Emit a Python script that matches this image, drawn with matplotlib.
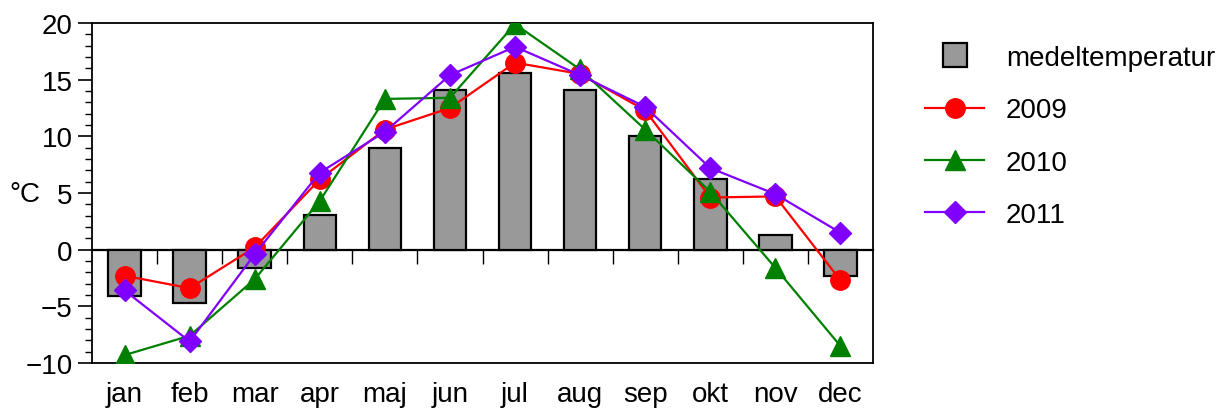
import matplotlib
matplotlib.use("Agg")
import matplotlib.pyplot as plt
from matplotlib.lines import Line2D
import numpy as np

plt.rcParams['font.family'] = ['Liberation Sans', 'DejaVu Sans']
plt.rcParams['font.size'] = 20

months = ["jan", "feb", "mar", "apr", "maj", "jun", "jul", "aug", "sep", "okt", "nov", "dec"]
medel = [-4.1, -4.7, -1.6, 3.1, 9.0, 14.1, 15.6, 14.1, 10.0, 6.2, 1.3, -2.3]
y2009 = [-2.3, -3.4, 0.2, 6.2, 10.6, 12.5, 16.5, 15.5, 12.3, 4.6, 4.7, -2.7]
y2010 = [-9.3, -7.6, -2.6, 4.3, 13.3, 13.4, 19.9, 15.9, 10.6, 5.1, -1.6, -8.5]
y2011 = [-3.6, -8.1, -0.4, 6.8, 10.4, 15.4, 17.9, 15.4, 12.6, 7.2, 4.9, 1.5]

fig = plt.figure(figsize=(12.29, 4.10), dpi=100)
ax = fig.add_axes([0.0749, 0.1122, 0.6354, 0.8293])

x = np.arange(1, len(months) + 1)
ax.bar(x, medel, width=0.5, color="#999999", edgecolor="black", linewidth=1.6, zorder=2)

ax.plot(x, y2009, color="#ff0000", lw=1.6, marker="o", ms=14, zorder=3)
ax.plot(x, y2010, color="#008000", lw=1.6, marker="^", ms=14, zorder=4)
ax.plot(x, y2011, color="#8000ff", lw=1.6, marker="D", ms=11, zorder=5)

ax.set_xlim(0.5, len(months) + 0.5)
ax.set_ylim(-10, 20)
ax.set_yticks(np.arange(-10, 21, 5))
ax.set_yticklabels([f"{v}".replace("-", "\u2212") for v in range(-10, 21, 5)])
ax.set_yticks(np.arange(-10, 21, 1), minor=True)
ax.tick_params(axis="y", which="major", direction="out", length=10, width=1.2, pad=4)
ax.tick_params(axis="y", which="minor", direction="out", length=5, width=1.0)
ax.set_xticks(x)
ax.set_xticklabels(months)
ax.tick_params(axis="x", which="major", length=0, pad=13)

for s in ax.spines.values():
    s.set_linewidth(1.3)

# zero line with ticks at category boundaries
sec = ax.secondary_xaxis(1/3)
sec.set_xticks(np.arange(1.5, len(months), 1.0))
sec.set_xticklabels([])
sec.tick_params(axis="x", direction="out", length=10, width=1.0)
sec.spines["bottom"].set_linewidth(1.6)

fig.text(0.0075, 1 - 195 / 410, "°C", ha="left", va="center")

handles = [
    Line2D([], [], ls="none", marker="s", ms=17, mfc="#999999", mec="black", mew=1.6),
    Line2D([], [], color="#ff0000", lw=1.6, marker="o", ms=14),
    Line2D([], [], color="#008000", lw=1.6, marker="^", ms=14),
    Line2D([], [], color="#8000ff", lw=1.6, marker="D", ms=11),
]
labels = ["medeltemperatur", "2009", "2010", "2011"]
fig.legend(handles, labels, loc="upper left", bbox_to_anchor=(0.744, 0.915),
           frameon=False, handlelength=2.1, handletextpad=0.8, labelspacing=0.95,
           borderaxespad=0)

fig.savefig("out.png", dpi=100)
